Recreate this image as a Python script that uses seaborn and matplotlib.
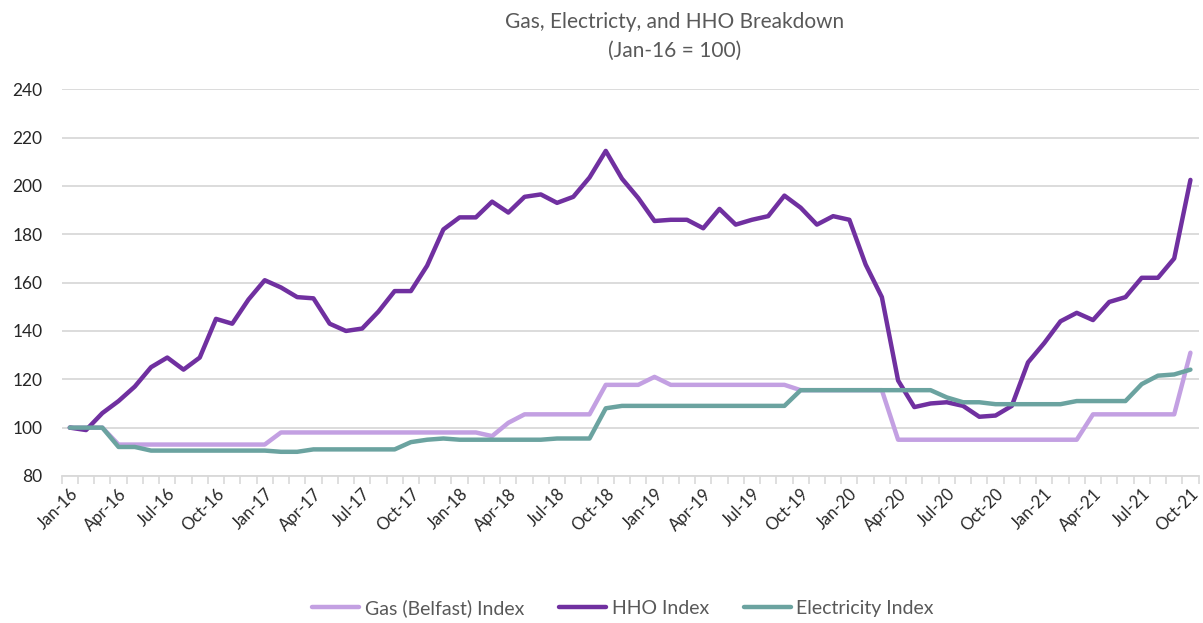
import pandas as pd
import seaborn as sns
import matplotlib.pyplot as plt
from matplotlib.ticker import FixedLocator

# monthly index values, Jan-16 .. Oct-21 (Jan-16 = 100)
months = list(pd.date_range("2016-01-01", "2021-10-01", freq="MS").strftime("%b-%y"))

gas = [100, 100, 100,
       93, 93, 93, 93, 93, 93, 93, 93, 93, 93,
       98, 98, 98, 98, 98, 98, 98, 98, 98, 98, 98, 98, 98,
       96.5, 102,
       105.5, 105.5, 105.5, 105.5, 105.5,
       117.7, 117.7, 117.7, 121,
       117.7, 117.7, 117.7, 117.7, 117.7, 117.7, 117.7, 117.7,
       115.5, 115.5, 115.5, 115.5, 115.5, 115.5,
       95, 95, 95, 95, 95, 95, 95, 95, 95, 95, 95, 95,
       105.5, 105.5, 105.5, 105.5, 105.5, 105.5,
       131]

hho = [100, 99, 106, 111, 117, 125, 129, 124, 129, 145,
       143, 153, 161, 158, 154, 153.5, 143, 140, 141, 148,
       156.5, 156.5, 167, 182, 187, 187, 193.5, 189, 195.5, 196.5,
       193, 195.5, 203.5, 214.5, 203, 195, 185.5, 186, 186, 182.5,
       190.5, 184, 186, 187.5, 196, 191, 184, 187.5, 186, 167.5,
       154, 119.5, 108.5, 110, 110.5, 109, 104.5, 105, 109, 127,
       135, 144, 147.5, 144.5, 152, 154, 162, 162, 170, 202.5]

elec = [100, 100, 100, 92, 92,
        90.5, 90.5, 90.5, 90.5, 90.5, 90.5, 90.5, 90.5,
        90, 90,
        91, 91, 91, 91, 91, 91,
        94, 95, 95.5,
        95, 95, 95, 95, 95, 95,
        95.5, 95.5, 95.5,
        108,
        109, 109, 109, 109, 109, 109, 109, 109, 109, 109, 109,
        115.5, 115.5, 115.5, 115.5, 115.5, 115.5, 115.5, 115.5, 115.5,
        112.5, 110.5, 110.5,
        109.7, 109.7, 109.7, 109.7, 109.7,
        111, 111, 111, 111,
        118, 121.5, 122, 124]

series = ["Gas (Belfast) Index", "HHO Index", "Electricity Index"]
colors = ["#C3A0E2", "#7030A0", "#6BA3A0"]

df = pd.DataFrame({"month": months * 3,
                   "pos": list(range(len(months))) * 3,
                   "value": gas + hho + elec,
                   "series": [series[0]] * len(months) + [series[1]] * len(months) + [series[2]] * len(months)})

sns.set_theme(style="white")
plt.rcParams["font.family"] = ["Lato", "DejaVu Sans"]
txt = "#595959"

fig = plt.figure(figsize=(12.03, 6.23), dpi=100)
ax = fig.add_axes([0.0513, 0.236, 0.945, 0.6207])

sns.lineplot(data=df, x="pos", y="value", hue="series", hue_order=series,
             palette=colors, linewidth=3.2, ax=ax, solid_capstyle="round")

ax.set_xlim(-0.5, len(months) - 0.5)
ax.set_ylim(80, 240)
ax.set_yticks(range(80, 241, 20))
ax.yaxis.grid(True, color="#D9D9D9", linewidth=1.3)
ax.set_axisbelow(True)
for s in ["top", "right", "left"]:
    ax.spines[s].set_visible(False)
ax.spines["bottom"].set_color("#D9D9D9")
ax.spines["bottom"].set_linewidth(1.3)

lab_pos = list(range(0, len(months), 3))
ax.set_xticks(lab_pos)
ax.set_xticklabels([months[i] for i in lab_pos], rotation=45, ha="right",
                   rotation_mode="anchor", fontsize=12, color="#262626")
ax.xaxis.set_minor_locator(FixedLocator([i - 0.5 for i in range(len(months) + 1)]))
ax.tick_params(axis="x", which="major", length=0, pad=7)
ax.tick_params(axis="x", which="minor", length=6, width=1.2, color="#D9D9D9", bottom=True)
ax.tick_params(axis="y", length=0, pad=14, labelsize=12.5, labelcolor="#262626")
ax.set_xlabel("")
ax.set_ylabel("")

fig.text(0.561, 0.965, "Gas, Electricty, and HHO Breakdown", ha="center", va="center",
         fontsize=15, color=txt)
fig.text(0.561, 0.918, "(Jan-16 = 100)", ha="center", va="center", fontsize=15, color=txt)

ax.legend_.remove()
handles = ax.get_lines()[:3]
fig.legend(handles, series, loc="center", bbox_to_anchor=(0.518, 0.024), ncol=3,
           frameon=False, fontsize=14, labelcolor=txt, handlelength=2.4,
           handletextpad=0.3, columnspacing=1.8)

fig.savefig("out.png", dpi=100)
